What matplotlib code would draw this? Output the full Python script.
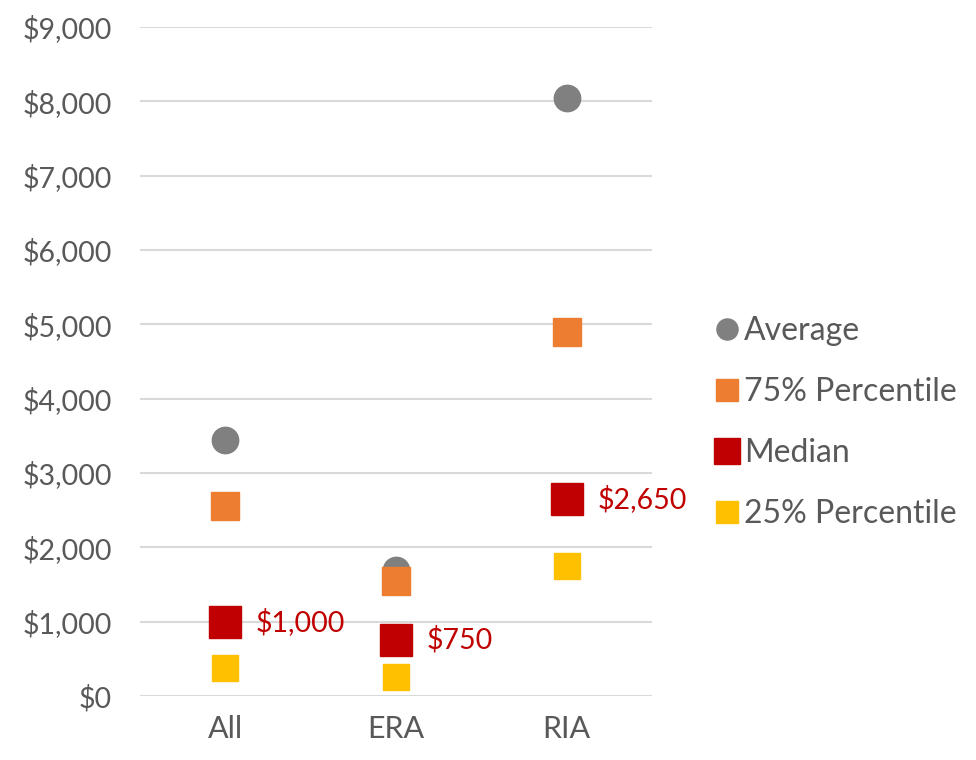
import matplotlib.pyplot as plt
from matplotlib.ticker import FuncFormatter

plt.rcParams['font.family'] = ['Lato', 'DejaVu Sans']

# data
categories = ["All", "ERA", "RIA"]
average = [3450, 1700, 8050]
pct75 = [2550, 1550, 4900]
median = [1000, 750, 2650]
pct25 = [375, 250, 1750]
median_labels = ["$1,000", "$750", "$2,650"]

GREY = '#595959'
fig = plt.figure(figsize=(9.76, 7.6), dpi=100)
ax = fig.add_axes([140/976, 64/760, 512/976, 669/760])

x = range(len(categories))
ax.plot(x, average, 'o', ms=19, color='#808080', label='Average', zorder=3)
ax.plot(x, pct75, 's', ms=20, color='#ed7d31', label='75% Percentile', zorder=4)
ax.plot(x, median, 's', ms=23, color='#c00000', label='Median', zorder=5)
ax.plot(x, pct25, 's', ms=19, color='#ffc000', label='25% Percentile', zorder=6)

for xi, yi, lab in zip(x, median, median_labels):
    ax.annotate(lab, (xi, yi), xytext=(22, 0), textcoords='offset points',
                ha='left', va='center', fontsize=20.5, color='#c00000')

ax.set_xlim(-0.5, 2.5)
ax.set_ylim(0, 9000)
ax.set_yticks(range(0, 9001, 1000))
ax.yaxis.set_major_formatter(FuncFormatter(lambda v, p: f"${v:,.0f}"))
ax.set_xticks(list(x))
ax.set_xticklabels(categories)
ax.tick_params(length=0, labelsize=20.5, labelcolor=GREY)
ax.tick_params(axis='x', labelsize=22, pad=14)
ax.tick_params(axis='y', pad=20)
ax.grid(axis='y', color='#d9d9d9', linewidth=1.5)
ax.set_axisbelow(True)
for s in ax.spines.values():
    s.set_visible(False)

leg = fig.legend(loc='upper left', bbox_to_anchor=(701/976, 1 - 303/760), frameon=False,
                 fontsize=23, labelcolor=GREY, handletextpad=0.15, labelspacing=0.97,
                 markerscale=0.8, handlelength=0.8, borderaxespad=0)

fig.savefig('out.png', dpi=100)
